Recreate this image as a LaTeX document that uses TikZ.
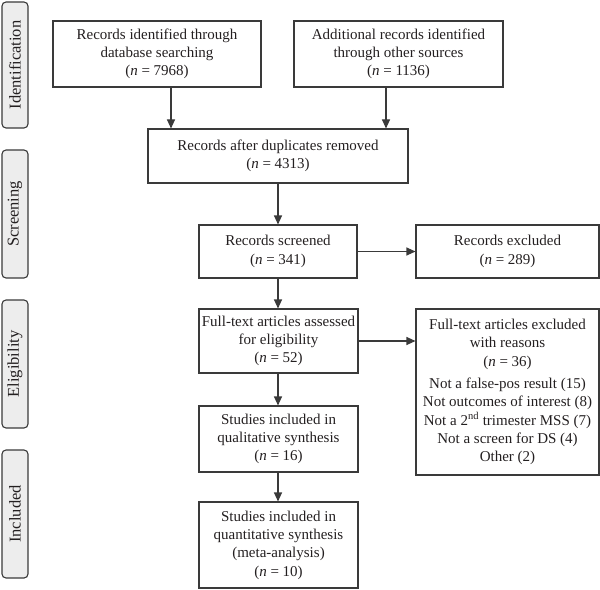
\documentclass[tikz,border=0pt]{standalone}
\usepackage{fontspec}
\setmainfont{Liberation Serif}
\usetikzlibrary{arrows.meta}
\definecolor{ink}{HTML}{231F20}
\definecolor{edge}{HTML}{3A3A3A}
\definecolor{side}{HTML}{EDEDED}
\tikzset{
  box/.style={draw=edge, line width=1.1bp, align=center, text=ink, font=\fontsize{15bp}{18.3bp}\selectfont, inner sep=1bp},
  sidebox/.style={draw=edge, line width=1.1bp, fill=side, rounded corners=4bp, text=ink, font=\fontsize{16.5bp}{18bp}\selectfont, rotate=90, minimum height=26bp, inner sep=0bp},
  arr/.style={draw=edge, line width=1.1bp, -{Triangle[length=9bp,width=8bp]}}
}
\begin{document}
\begin{tikzpicture}[x=1bp,y=-1bp]
\useasboundingbox (0,0) rectangle (600,590);
% side labels
\node[sidebox, minimum width=126bp] (s1) at (15,65) {Identification};
\node[sidebox, minimum width=128bp] (s2) at (15,214) {Screening};
\node[sidebox, minimum width=128bp] (s3) at (15,364) {Eligibility};
\node[sidebox, minimum width=128bp] (s4) at (15,514) {Included};
% boxes
\node[box, minimum width=208bp, minimum height=66bp] (A) at (157,54) {Records identified through\\database searching\\(\textit{n} = 7968)};
\node[box, minimum width=209bp, minimum height=66bp] (B) at (398.5,54) {Additional records identified\\through other sources\\(\textit{n} = 1136)};
\node[box, minimum width=260bp, minimum height=54bp] (C) at (278,156) {Records after duplicates removed\\(\textit{n} = 4313)};
\node[box, minimum width=158bp, minimum height=53bp] (D) at (278,251.5) {Records screened\\(\textit{n} = 341)};
\node[box, minimum width=183bp, minimum height=53bp] (E) at (507.5,251.5) {Records excluded\\(\textit{n} = 289)};
\node[box, minimum width=159bp, minimum height=64bp] (F) at (278.5,341) {Full-text articles assessed\\for eligibility\\(\textit{n} = 52)};
\node[box, minimum width=183bp, minimum height=166bp] (G) at (507.5,392) {Full-text articles excluded\\with reasons\\(\textit{n} = 36)\\[4bp]Not a false-pos result (15)\\Not outcomes of interest (8)\\Not a 2\textsuperscript{nd} trimester MSS (7)\\Not a screen for DS (4)\\Other (2)};
\node[box, minimum width=159bp, minimum height=66bp] (H) at (278.5,439) {Studies included in\\qualitative synthesis\\(\textit{n} = 16)};
\node[box, minimum width=159bp, minimum height=86bp] (I) at (278.5,545) {Studies included in\\quantitative synthesis\\(meta-analysis)\\(\textit{n} = 10)};
% arrow columns
\coordinate (xa) at (171,0);
\coordinate (xb) at (386,0);
\coordinate (xc) at (278,0);
\draw[arr] (xa |- A.south) -- (xa |- C.north);
\draw[arr] (xb |- B.south) -- (xb |- C.north);
\draw[arr] (xc |- C.south) -- (xc |- D.north);
\draw[arr] (D.east) -- (E.west);
\draw[arr] (xc |- D.south) -- (xc |- F.north);
\draw[arr] (F.east) -- (F.east -| G.west);
\draw[arr] (xc |- F.south) -- (xc |- H.north);
\draw[arr] (xc |- H.south) -- (xc |- I.north);
\end{tikzpicture}
\end{document}
